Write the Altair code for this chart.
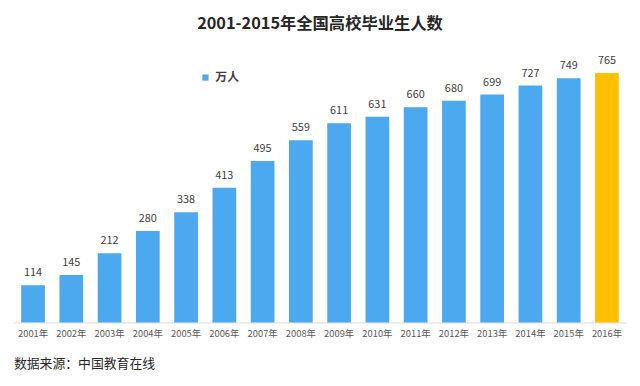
import altair as alt
import pandas as pd

years = ["2001年", "2002年", "2003年", "2004年", "2005年", "2006年", "2007年", "2008年",
         "2009年", "2010年", "2011年", "2012年", "2013年", "2014年", "2015年", "2016年"]
values = [114, 145, 212, 280, 338, 413, 495, 559, 611, 631, 660, 680, 699, 727, 749, 765]
highlight = ["no"] * 15 + ["yes"]

df = pd.DataFrame({"year": years, "value": values, "hl": highlight})

FONT = "Noto Sans CJK SC"
BLUE = "#4DA9EF"
ORANGE = "#FFC000"

x = alt.X("year:N", sort=years, title=None,
          scale=alt.Scale(paddingInner=0.38, paddingOuter=0.19),
          axis=alt.Axis(labelAngle=0, labelFontSize=9.5, labelColor="#595959", labelFont=FONT,
                        domainColor="#D9D9D9", ticks=False, labelPadding=6))
y = alt.Y("value:Q", scale=alt.Scale(domain=[0, 845]), axis=None)

bars = alt.Chart(df).mark_bar().encode(
    x=x, y=y,
    color=alt.Color("hl:N", scale=alt.Scale(domain=["no", "yes"], range=[BLUE, ORANGE]), legend=None),
)
labels = alt.Chart(df).mark_text(dy=-12, fontSize=11, font=FONT, color="#404040").encode(
    x=x, y=y, text="value:Q"
)

title = alt.Chart(pd.DataFrame({"t": ["2001-2015年全国高校毕业生人数"]})).mark_text(
    fontSize=16.5, fontWeight="bold", font=FONT, color="#262626"
).encode(x=alt.value(310), y=alt.value(-23), text="t:N")

leg_sq = alt.Chart(pd.DataFrame({"t": ["万人"]})).mark_square(size=40, color=BLUE, opacity=1).encode(
    x=alt.value(194), y=alt.value(31)
)
leg_tx = alt.Chart(pd.DataFrame({"t": ["万人"]})).mark_text(
    fontSize=12, fontWeight="bold", font=FONT, color="#404040", align="left"
).encode(x=alt.value(204), y=alt.value(31), text="t:N")

source = alt.Chart(pd.DataFrame({"t": ["数据来源：中国教育在线"]})).mark_text(
    fontSize=13, font=FONT, color="#262626", align="left"
).encode(x=alt.value(0), y=alt.value(321), text="t:N")

chart = alt.layer(bars, labels, title, leg_sq, leg_tx, source).properties(
    width=620, height=279,
    autosize=alt.AutoSizeParams(type="none"),
    padding={"left": 6, "top": 37, "right": 6, "bottom": 62},
).configure(background="white").configure_view(strokeWidth=0, stroke="transparent")

chart.save("out.html", embed_options={"renderer": "svg", "actions": False})
